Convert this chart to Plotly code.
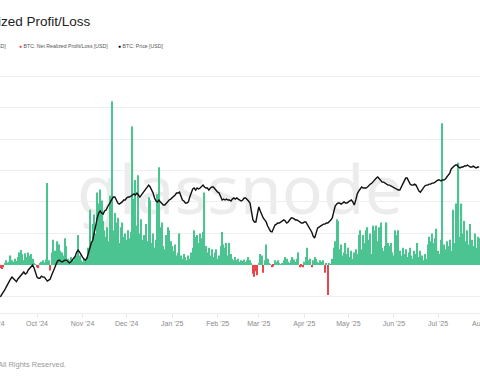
import pandas as pd
import plotly.graph_objects as go

start_date = "2024-09-06"

# BTC: Net Realized Profit/Loss [USD billions], daily
nrpl_busd = [
    -0.2, -0.25, -0.15, 0.1, 0.3, 0.15, 0.2, 0.6, 0.3, 0.2,
    0.4, 0.25, 0.5, 0.8, 0.95, 0.7, 0.3, 0.75, 0.5, 0.8,
    0.6, 0.7, 0.4, 0.1, 0.05, -0.15, -0.2, 0.1, 0.2, 0.3,
    0.15, 0.35, 5.2, 0.3, -0.35, 0.8, 1.6, 0.9, 0.5, 1.5,
    1.3, 0.9, 0.8, 0.6, 1.7, 1.2, 0.4, 0.3, 0.5, 0.4,
    0.3, 0.5, 0.6, 1.9, 0.6, 0.3, 0.2, 0.4, 0.3, 0.5,
    1.1, 3.5, 1.5, 2.6, 3.2, 2.0, 4.6, 3.9, 4.8, 4.1,
    2.8, 2.2, 1.8, 2.4, 1.5, 4.4, 10.4, 2.2, 3.3, 2.7,
    3.0, 1.4, 2.4, 2.7, 1.8, 2.0, 1.6, 2.2, 1.7, 2.1,
    8.8, 4.2, 5.4, 2.5, 5.7, 2.0, 2.9, 1.6, 1.9, 2.6,
    1.5, 4.3, 4.1, 1.4, 2.0, 1.1, 1.6, 4.5, 6.2, 2.4,
    2.7, 1.2, 1.0, 1.9, 2.4, 2.2, 1.5, 1.2, 0.9, 1.3,
    0.6, 0.8, 2.0, 0.6, 0.4, 0.7, 0.5, 0.3, 0.6, 0.4,
    0.8, 1.1, 2.2, 1.8, 1.9, 1.4, 2.0, 1.7, 2.1, 4.6,
    1.2, 0.8, 1.1, 0.6, 1.0, 0.5, 0.8, 1.0, 0.4, 0.6,
    1.2, 2.1, 1.3, 1.1, 1.4, 0.6, 1.4, 0.7, 0.4, 0.3,
    0.5, 0.3, 0.4, 0.2, 0.3, 0.25, 0.35, 0.2, 0.3, 0.5,
    0.3, 0.1, -0.55, -0.75, -0.4, -0.65, 0.1, 0.7, 0.6, -0.5,
    0.3, 1.3, 0.4, 0.1, 0.05, -0.15, -0.1, 0.3, 0.2, 0.3,
    0.1, 0.05, 0.1, 0.3, 0.5, 0.4, 0.2, 0.1, 0.3, 0.5,
    0.35, 0.2, 0.4, 0.8, -0.15, -0.1, -0.15, 0.2, 0.5, 1.1,
    0.3, 0.4, -0.15, 0.3, 0.5, 0.4, 0.2, 0.1, 0.3, 0.2,
    0.3, -0.5, 0.1, -1.9, 0.1, 0.05, 0.4, 1.1, 1.5, 2.9,
    2.8, 1.0, 1.3, 0.6, 0.8, 1.4, 0.7, 1.1, 0.5, 0.9,
    0.4, 0.8, 1.0, 0.7, 1.9, 2.2, 1.0, 1.9, 1.4, 2.2,
    2.4, 1.6, 2.0, 0.7, 2.5, 2.2, 2.5, 1.5, 2.4, 2.7,
    1.1, 0.9, 1.2, 2.7, 1.4, 1.2, 1.4, 0.8, 0.6, 2.2,
    1.9, 2.2, 0.9, 0.6, 1.1, 0.7, 1.0, 0.5, 0.8, 1.1,
    0.6, 0.4, 0.9, 0.7, 1.4, 0.5, 0.9, 0.6, 0.3, 0.7,
    0.4, 1.3, 1.8, 1.5, 2.0, 1.4, 1.7, 2.3, 0.9, 0.7,
    1.6, 9.0, 1.3, 1.0, 1.5, 1.2, 1.6, 0.9, 3.5, 1.4,
    3.9, 2.7, 6.5, 1.8, 3.9, 2.0, 2.8, 1.5, 2.2, 1.3,
    2.6, 1.6, 1.2, 2.0, 1.1, 1.8, 1.7,
]

# BTC: Price [USD thousands], daily
price_kusd = [
    51.8, 52.5, 53.5, 54.2, 55.2, 56.3, 57.4, 58.2, 58.9, 58.2,
    57.6, 57.2, 58.2, 58.9, 59.7, 60.5, 60.9, 60.1, 60.5, 61.7,
    62.5, 63.3, 63.7, 62.5, 60.5, 58.9, 58.5, 58.5, 59.3, 58.9,
    58.9, 58.2, 57.4, 57.8, 58.2, 59.7, 60.9, 62.5, 64.1, 65.4,
    65.8, 65.4, 65.0, 65.4, 65.8, 65.8, 65.0, 64.6, 65.0, 65.8,
    66.6, 67.5, 69.3, 70.2, 69.3, 68.0, 67.1, 66.2, 65.8, 66.6,
    69.3, 71.6, 73.6, 75.0, 79.0, 82.6, 86.5, 89.3, 90.5, 89.3,
    88.7, 90.5, 91.1, 92.9, 94.1, 96.0, 97.8, 99.1, 99.1, 97.2,
    95.3, 94.7, 95.3, 96.0, 97.2, 97.2, 98.5, 99.1, 99.1, 99.8,
    100.4, 101.1, 100.4, 101.7, 100.4, 99.1, 100.4, 101.7, 102.3, 104.4,
    105.8, 107.1, 105.8, 103.7, 101.7, 98.5, 96.6, 96.0, 97.2, 96.0,
    94.7, 94.1, 94.1, 95.3, 96.6, 97.2, 97.8, 98.5, 99.1, 100.4,
    101.7, 101.7, 102.3, 99.8, 97.2, 96.6, 95.3, 95.3, 96.0, 99.1,
    102.3, 104.4, 105.1, 103.7, 105.1, 104.4, 105.1, 106.5, 107.1, 105.8,
    105.1, 105.1, 103.7, 105.1, 105.8, 105.8, 104.4, 103.0, 102.3, 101.7,
    99.1, 97.2, 97.8, 97.2, 97.8, 97.2, 97.2, 96.6, 97.8, 98.5,
    97.8, 98.5, 97.8, 97.2, 96.6, 97.2, 98.5, 98.5, 97.8, 96.6,
    95.3, 89.9, 85.4, 84.3, 84.3, 88.7, 92.9, 90.5, 88.2, 86.5,
    85.4, 84.3, 82.1, 80.4, 79.3, 79.0, 81.0, 82.6, 83.1, 83.7,
    83.7, 84.3, 84.8, 85.4, 84.8, 83.7, 84.3, 85.4, 86.5, 86.5,
    85.9, 85.4, 85.4, 84.8, 84.3, 83.7, 83.7, 84.3, 84.3, 83.1,
    81.5, 80.4, 79.0, 76.9, 75.9, 78.4, 81.0, 81.5, 82.1, 82.6,
    83.1, 83.1, 83.7, 83.7, 84.3, 85.4, 86.5, 90.5, 93.5, 94.7,
    95.3, 95.3, 94.7, 95.3, 96.0, 95.3, 95.3, 96.0, 96.6, 97.2,
    96.0, 94.1, 97.2, 101.1, 103.0, 104.4, 105.8, 105.1, 105.1, 105.1,
    105.8, 107.1, 107.8, 108.5, 110.0, 111.4, 112.1, 112.9, 111.4, 110.0,
    109.2, 109.2, 108.5, 107.8, 107.1, 107.1, 106.5, 105.8, 105.1, 104.4,
    103.7, 103.7, 103.7, 105.8, 108.5, 110.7, 112.1, 112.1, 110.0, 107.8,
    107.1, 107.1, 107.8, 107.1, 105.1, 103.0, 102.3, 103.7, 105.8, 106.5,
    107.1, 107.1, 107.8, 107.8, 108.5, 108.5, 109.2, 110.0, 110.7, 110.7,
    110.0, 110.7, 110.7, 111.4, 112.9, 113.6, 115.8, 118.9, 120.4, 121.2,
    122.0, 122.0, 120.4, 119.7, 120.4, 120.4, 121.2, 121.2, 122.0, 121.2,
    120.4, 120.4, 121.2, 120.4, 119.7, 120.4, 120.4,
]

title_text = "BTC: Net Realized Profit/Loss"
legend_labels = ["BTC: Net Realized Profit/Loss [USD]",
                 "BTC: Net Realized Profit/Loss [USD]",
                 "BTC: Price [USD]"]
edge_ticks = ["Sep '24", "Aug '25"]
footer_text = "© 2025 Glassnode. All Rights Reserved."
watermark = "glassnode"

GREEN = "#4cc491"
RED = "#e5474c"
FONT = "Liberation Sans, Arial, sans-serif"

dates = pd.date_range(start_date, periods=len(nrpl_busd), freq="D")
price_usd = [p * 1000 for p in price_kusd]
bar_colors = [GREEN if v >= 0 else RED for v in nrpl_busd]

W, H = 480, 384
T, B = 62, 71
PH = H - T - B


def py(px):
    return (H - B - px) / PH


fig = go.Figure()
fig.add_trace(go.Bar(x=dates, y=nrpl_busd, marker=dict(color=bar_colors, line=dict(width=0)),
                     yaxis="y", showlegend=False))
fig.add_trace(go.Scatter(x=dates, y=price_usd, mode="lines", line=dict(color="#111111", width=1.4),
                         yaxis="y2", showlegend=False))

fig.update_layout(
    width=W, height=H,
    margin=dict(l=0, r=0, t=T, b=B, pad=0),
    paper_bgcolor="white", plot_bgcolor="white",
    bargap=0.15,
    font=dict(family=FONT, color="#888888"),
    xaxis=dict(
        type="date",
        range=["2024-09-05 19:00", "2025-07-29 14:00"],
        dtick="M1", tick0="2024-09-01", tickformat="%b '%y",
        ticks="outside", ticklen=4, tickcolor="#e8e8e8",
        showgrid=False, showline=True, linecolor="#ececec", linewidth=1,
        tickfont=dict(size=7, color="#8a8a8a", family=FONT),
        zeroline=False,
    ),
    yaxis=dict(
        range=[-3.05, 12.89], dtick=2, tick0=0,
        showgrid=True, gridcolor="#eeeeee", gridwidth=1,
        showticklabels=False, zeroline=False, ticks="",
    ),
    yaxis2=dict(
        type="log", overlaying="y", side="right",
        range=[4.669, 5.377],
        showgrid=False, showticklabels=False, zeroline=False, ticks="",
    ),
)

# watermark behind data
fig.add_shape(type="rect", xref="paper", yref="paper",
              x0=0.2, x1=0.8, y0=py(210), y1=py(174),
              line=dict(width=0), fillcolor="rgba(0,0,0,0)", layer="below",
              label=dict(text=watermark, textposition="middle center",
                         font=dict(size=68, color="rgba(0,0,0,0.075)", family="Noto Sans")))

# title
fig.add_annotation(text=title_text, xref="paper", yref="paper", x=93 / W, y=py(22),
                   xanchor="right", yanchor="middle", showarrow=False,
                   font=dict(size=13.5, color="#222222", family=FONT))

# legend
leg_pos = [(8, "right"), (17, "left"), (116, "left")]
leg_col = [GREEN, RED, "#000000"]
for lab, (px, anc), col in zip(legend_labels, leg_pos, leg_col):
    fig.add_annotation(text=f'<span style="color:{col}">●</span> {lab}',
                       xref="paper", yref="paper", x=px / W, y=py(46),
                       xanchor=anc, yanchor="middle", showarrow=False,
                       font=dict(size=5.2, color="#555555", family=FONT))

# month labels just outside the visible range
for lab, px in zip(edge_ticks, [-7, 484]):
    fig.add_annotation(text=lab, xref="paper", yref="paper", x=px / W, y=py(324),
                       xanchor="center", yanchor="middle", showarrow=False,
                       font=dict(size=7, color="#8a8a8a", family=FONT))

# footer
fig.add_annotation(text=footer_text, xref="paper", yref="paper", x=68 / W, y=py(364),
                   xanchor="right", yanchor="middle", showarrow=False,
                   font=dict(size=7.5, color="#999999", family=FONT))

fig.write_html("out.html",
               config={"displayModeBar": False},
               post_script="document.body.style.margin='0';document.body.style.padding='0';")
